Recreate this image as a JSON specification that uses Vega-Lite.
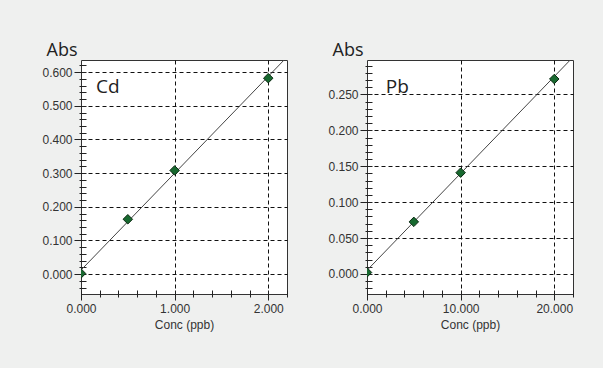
{
  "$schema": "https://vega.github.io/schema/vega-lite/v6.json",
  "padding": {"left": 41, "top": 40, "right": 29, "bottom": 42},
  "background": "#eff0ef",
  "spacing": 80,
  "bounds": "flush",
  "datasets": {
    "cd_points": [
      {"conc": 0, "abs": 0.002},
      {"conc": 0.5, "abs": 0.163},
      {"conc": 1.0, "abs": 0.308},
      {"conc": 2.0, "abs": 0.582}
    ],
    "cd_fit": [
      {"conc": 0, "abs": 0.012},
      {"conc": 2.2, "abs": 0.645}
    ],
    "cd_label": [{"element": "Cd", "conc": 0.16, "abs": 0.538}],
    "pb_points": [
      {"conc": 0, "abs": 0.002},
      {"conc": 5, "abs": 0.0725},
      {"conc": 10, "abs": 0.141},
      {"conc": 20, "abs": 0.2715}
    ],
    "pb_fit": [
      {"conc": 0, "abs": 0.005},
      {"conc": 22, "abs": 0.302}
    ],
    "pb_label": [{"element": "Pb", "conc": 2.0, "abs": 0.2518}]
  },
  "config": {
    "view": {"fill": "white", "stroke": "#333", "strokeWidth": 1},
    "axis": {
      "labelFont": "Liberation Sans",
      "labelFontSize": 12,
      "labelColor": "#333",
      "titleFont": "Liberation Sans",
      "titleFontWeight": "normal",
      "titleColor": "#333",
      "domain": false,
      "tickColor": "#222",
      "gridColor": "#111",
      "gridDash": [4, 3],
      "labelOverlap": false,
      "labelFlush": false,
      "labelBound": false,
      "tickCount": 100
    }
  },
  "hconcat": [
    {
      "width": 206,
      "height": 234,
      "layer": [
        {
          "data": {"name": "cd_fit"},
          "mark": {"type": "line", "color": "#444", "strokeWidth": 1, "clip": true},
          "encoding": {
            "x": {
              "field": "conc", "type": "quantitative",
              "scale": {"domain": [0, 2.2], "nice": false, "zero": false},
              "axis": {
                "values": [0, 0.2, 0.4, 0.6, 0.8, 1, 1.2, 1.4, 1.6, 1.8, 2, 2.2],
                "tickCount": 100,
                "offset": -4,
                "tickSize": {"condition": {"test": "abs(datum.value-round(datum.value))<0.001", "value": 10}, "value": 7},
                "labelExpr": "abs(datum.value-round(datum.value))<0.001 ? format(datum.value,'.3f') : ''",
                "labelPadding": 3,
                "grid": true,
                "gridOpacity": {"condition": {"test": "datum.value>0 && abs(datum.value-round(datum.value))<0.001", "value": 1}, "value": 0},
                "title": "Conc (ppb)",
                "titleFontSize": 12,
                "titleY": 29,
                "titleBaseline": "top"
              }
            },
            "y": {
              "field": "abs", "type": "quantitative",
              "scale": {"domain": [-0.059, 0.636], "nice": false, "zero": false},
              "axis": {
                "values": [-0.04, -0.02, 0, 0.02, 0.04, 0.06, 0.08, 0.1, 0.12, 0.14, 0.16, 0.18, 0.2, 0.22, 0.24, 0.26, 0.28, 0.3, 0.32, 0.34, 0.36, 0.38, 0.4, 0.42, 0.44, 0.46, 0.48, 0.5, 0.52, 0.54, 0.56, 0.58, 0.6, 0.62],
                "tickCount": 100,
                "offset": -5,
                "tickSize": {"condition": {"test": "abs(datum.value*10-round(datum.value*10))<0.001", "value": 12}, "value": 7},
                "labelExpr": "abs(datum.value*10-round(datum.value*10))<0.001 && datum.value>-0.001 ? format(datum.value,'.3f') : ''",
                "labelPadding": 2,
                "grid": true,
                "gridOpacity": {"condition": {"test": "abs(datum.value*10-round(datum.value*10))<0.001", "value": 1}, "value": 0},
                "title": "Abs",
                "titleAngle": 0,
                "titleX": -40,
                "titleY": -5,
                "titleAlign": "left",
                "titleBaseline": "alphabetic",
                "titleFont": "Open Sans",
                "titleFontSize": 18,
                "titleColor": "#222"
              }
            }
          }
        },
        {
          "data": {"name": "cd_points"},
          "mark": {"type": "point", "shape": "diamond", "filled": true, "size": 90, "fill": "#17692f", "stroke": "#0b2a12", "strokeWidth": 1, "opacity": 1, "clip": true},
          "encoding": {
            "x": {"field": "conc", "type": "quantitative"},
            "y": {"field": "abs", "type": "quantitative"}
          }
        },
        {
          "data": {"name": "cd_label"},
          "mark": {"type": "text", "font": "Open Sans", "fontSize": 19, "align": "left", "baseline": "alphabetic", "color": "#222"},
          "encoding": {
            "x": {"field": "conc", "type": "quantitative"},
            "y": {"field": "abs", "type": "quantitative"},
            "text": {"field": "element"}
          }
        }
      ]
    },
    {
      "width": 206,
      "height": 234,
      "layer": [
        {
          "data": {"name": "pb_fit"},
          "mark": {"type": "line", "color": "#444", "strokeWidth": 1, "clip": true},
          "encoding": {
            "x": {
              "field": "conc", "type": "quantitative",
              "scale": {"domain": [0, 22], "nice": false, "zero": false},
              "axis": {
                "values": [0, 2, 4, 6, 8, 10, 12, 14, 16, 18, 20, 22],
                "tickCount": 100,
                "offset": -4,
                "tickSize": {"condition": {"test": "datum.value % 10 == 0", "value": 10}, "value": 7},
                "labelExpr": "datum.value % 10 == 0 ? format(datum.value,'.3f') : ''",
                "labelPadding": 3,
                "grid": true,
                "gridOpacity": {"condition": {"test": "datum.value>0 && datum.value % 10 == 0", "value": 1}, "value": 0},
                "title": "Conc (ppb)",
                "titleFontSize": 12,
                "titleY": 29,
                "titleBaseline": "top"
              }
            },
            "y": {
              "field": "abs", "type": "quantitative",
              "scale": {"domain": [-0.028, 0.298], "nice": false, "zero": false},
              "axis": {
                "values": [-0.02, -0.01, 0, 0.01, 0.02, 0.03, 0.04, 0.05, 0.06, 0.07, 0.08, 0.09, 0.1, 0.11, 0.12, 0.13, 0.14, 0.15, 0.16, 0.17, 0.18, 0.19, 0.2, 0.21, 0.22, 0.23, 0.24, 0.25, 0.26, 0.27, 0.28, 0.29],
                "tickCount": 100,
                "offset": -5,
                "tickSize": {"condition": {"test": "abs(datum.value*20-round(datum.value*20))<0.001", "value": 12}, "value": 7},
                "labelExpr": "abs(datum.value*20-round(datum.value*20))<0.001 && datum.value>-0.001 ? format(datum.value,'.3f') : ''",
                "labelPadding": 2,
                "grid": true,
                "gridOpacity": {"condition": {"test": "abs(datum.value*20-round(datum.value*20))<0.001", "value": 1}, "value": 0},
                "title": "Abs",
                "titleAngle": 0,
                "titleX": -40,
                "titleY": -5,
                "titleAlign": "left",
                "titleBaseline": "alphabetic",
                "titleFont": "Open Sans",
                "titleFontSize": 18,
                "titleColor": "#222"
              }
            }
          }
        },
        {
          "data": {"name": "pb_points"},
          "mark": {"type": "point", "shape": "diamond", "filled": true, "size": 90, "fill": "#17692f", "stroke": "#0b2a12", "strokeWidth": 1, "opacity": 1, "clip": true},
          "encoding": {
            "x": {"field": "conc", "type": "quantitative"},
            "y": {"field": "abs", "type": "quantitative"}
          }
        },
        {
          "data": {"name": "pb_label"},
          "mark": {"type": "text", "font": "Open Sans", "fontSize": 19, "align": "left", "baseline": "alphabetic", "color": "#222"},
          "encoding": {
            "x": {"field": "conc", "type": "quantitative"},
            "y": {"field": "abs", "type": "quantitative"},
            "text": {"field": "element"}
          }
        }
      ]
    }
  ]
}
